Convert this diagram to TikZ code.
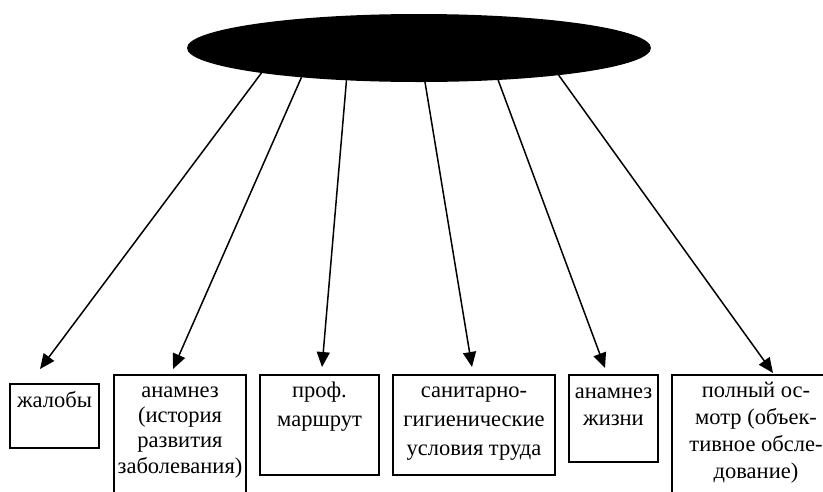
\documentclass[tikz,border=0pt]{standalone}
\usepackage{fontspec}
\setmainfont{Liberation Serif}
\usetikzlibrary{shapes.geometric,arrows.meta}
\begin{document}
\begin{tikzpicture}[x=1pt,y=-1pt,
  boxnode/.style={draw=black, line width=1.6pt, rectangle, inner sep=0pt, outer sep=0pt, anchor=north west},
  lbl/.style={inner sep=0pt, anchor=north, align=center, font=\fontsize{22.5}{27}\selectfont},
  arr/.style={line width=1.5pt, -{Triangle[length=15pt,width=13pt]}}]
\clip (0,0) rectangle (823,491);
\fill[white] (0,0) rectangle (823,491);
\node[ellipse, fill=black, minimum width=464pt, minimum height=68pt, inner sep=0pt, outer sep=0pt] (e) at (419,48) {};
% boxes
\node[boxnode, minimum width=89pt, minimum height=64pt] (b1) at (10,384) {};
\node[boxnode, minimum width=132pt, minimum height=140pt] (b2) at (114,375) {};
\node[boxnode, minimum width=119pt, minimum height=100pt] (b3) at (260,375) {};
\node[boxnode, minimum width=162pt, minimum height=100pt] (b4) at (393,375) {};
\node[boxnode, minimum width=89pt, minimum height=87pt] (b5) at (569,375) {};
\node[boxnode, minimum width=168pt, minimum height=140pt] (b6) at (672,375) {};
% labels
\node[lbl] (l1) at ([yshift=-7pt]b1.north) {\rule{0pt}{16pt}жалобы};
\node[lbl, font=\fontsize{22.5}{25.3}\selectfont] (l2) at ([yshift=-6pt]b2.north) {\rule{0pt}{16pt}анамнез\\(история\\развития\\заболевания)};
\node[lbl, font=\fontsize{22.5}{29}\selectfont] (l3) at ([yshift=-6.5pt]b3.north) {\rule{0pt}{16pt}проф.\\маршрут};
\node[lbl, font=\fontsize{22.5}{29}\selectfont] (l4) at ([yshift=-6pt]b4.north) {\rule{0pt}{16pt}санитарно-\\гигиенические\\условия труда};
\node[lbl] (l5) at ([yshift=-7pt]b5.north) {\rule{0pt}{16pt}анамнез\\жизни};
\node[lbl] (l6) at ([yshift=-6pt]b6.north) {\rule{0pt}{16pt}полный ос-\\мотр (объек-\\тивное обсле-\\дование)};
% arrow ends
\coordinate (t1) at (40,369);
\coordinate (t2) at (173,369);
\coordinate (t3) at (322,367);
\coordinate (t4) at (472,367);
\coordinate (t5) at (605,368);
\coordinate (t6) at (773,373);
\draw[arr] (e.189.4) -- (t1);
\draw[arr] (e.194.5) -- (t2);
\draw[arr] (e.204.9) -- (t3);
\draw[arr] (e.280.3) -- (t4);
\draw[arr] (e.338.6) -- (t5);
\draw[arr] (e.349.7) -- (t6);
\end{tikzpicture}
\end{document}
